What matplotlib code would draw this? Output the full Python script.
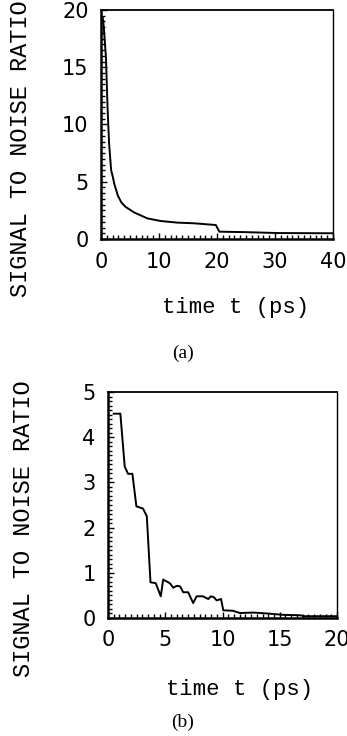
import matplotlib
matplotlib.use("Agg")
import matplotlib.pyplot as plt
from matplotlib.ticker import MultipleLocator

# ---- data ----
t_a = [0.3, 0.43, 0.85, 1.14, 1.4, 1.75, 2.0, 2.3, 2.9, 3.5, 4.2, 5.67, 8.0,
       10.3, 13.2, 16.1, 19.8, 20.4, 24.8, 30.5, 40.0]
snr_a = [19.3, 18.8, 15.9, 11.3, 8.3, 6.0, 5.5, 4.8, 3.8, 3.2, 2.82, 2.33, 1.8,
         1.57, 1.43, 1.37, 1.22, 0.64, 0.6, 0.52, 0.5]

t_b = [0.5, 1.08, 1.46, 1.75, 2.13, 2.48, 3.06, 3.39, 3.71, 4.17, 4.61, 4.82,
       5.4, 5.7, 5.99, 6.3, 6.57, 7.0, 7.44, 7.74, 8.3, 8.76, 8.98, 9.25, 9.49,
       9.87, 10.07, 10.9, 11.53, 12.7, 13.9, 15.3, 16.8, 17.1, 20.0]
snr_b = [4.52, 4.52, 3.35, 3.19, 3.19, 2.47, 2.42, 2.25, 0.79, 0.77, 0.48, 0.85,
         0.77, 0.67, 0.71, 0.70, 0.57, 0.57, 0.33, 0.48, 0.48, 0.42, 0.48, 0.46,
         0.39, 0.42, 0.17, 0.16, 0.11, 0.12, 0.10, 0.07, 0.06, 0.04, 0.04]

xticks_a = [0, 10, 20, 30, 40]
yticks_a = [0, 5, 10, 15, 20]
xticks_b = [0, 5, 10, 15, 20]
yticks_b = [0, 1, 2, 3, 4, 5]

W, H = 347, 736
fig = plt.figure(figsize=(W / 100, H / 100), dpi=100)

def px_axes(l, t, r, b):
    return fig.add_axes([l / W, 1 - b / H, (r - l) / W, (b - t) / H])

tick_font = dict(family="DejaVu Sans", size=15)
mono = "Liberation Mono"

def style(ax, xt, yt, xmin, ymin, xlim, ylim):
    ax.set_xlim(*xlim)
    ax.set_ylim(*ylim)
    ax.set_xticks(xt)
    ax.set_yticks(yt)
    ax.xaxis.set_minor_locator(MultipleLocator(xmin))
    ax.yaxis.set_minor_locator(MultipleLocator(ymin))
    ax.tick_params(which="both", direction="in", top=False, right=False,
                   width=1.0, color="black")
    ax.tick_params(which="major", length=4, pad=9)
    ax.tick_params(which="minor", length=3)
    for lab in ax.get_xticklabels() + ax.get_yticklabels():
        lab.set_fontfamily(tick_font["family"])
        lab.set_fontsize(tick_font["size"])
    ax.spines["left"].set_linewidth(1.8)
    ax.spines["bottom"].set_linewidth(1.8)
    ax.spines["top"].set_linewidth(1.3)
    ax.spines["right"].set_linewidth(1.0)

ax1 = px_axes(101, 10, 333, 239)
ax1.plot(t_a, snr_a, color="black", lw=1.4)
style(ax1, xticks_a, yticks_a, 1, 0.5, (0, 40), (0, 20))

ax2 = px_axes(108, 392, 337, 618)
ax2.plot(t_b, snr_b, color="black", lw=1.4)
style(ax2, xticks_b, yticks_b, 0.5, 0.1, (0, 20), (0, 5))

def ftext(x, y, s, **kw):
    fig.text(x / W, 1 - y / H, s, ha="center", va="center", **kw)

ftext(21, 149, "SIGNAL TO NOISE RATIO", rotation=90, family=mono, size=17)
ftext(24, 529, "SIGNAL TO NOISE RATIO", rotation=90, family=mono, size=17)
ftext(236, 308, "time t (ps)", family=mono, size=16)
ftext(240, 690, "time t (ps)", family=mono, size=16)
ftext(183, 353, "(a)", family="Liberation Serif", size=14)
ftext(183, 722, "(b)", family="Liberation Serif", size=14)

fig.savefig("out.png", dpi=100)
